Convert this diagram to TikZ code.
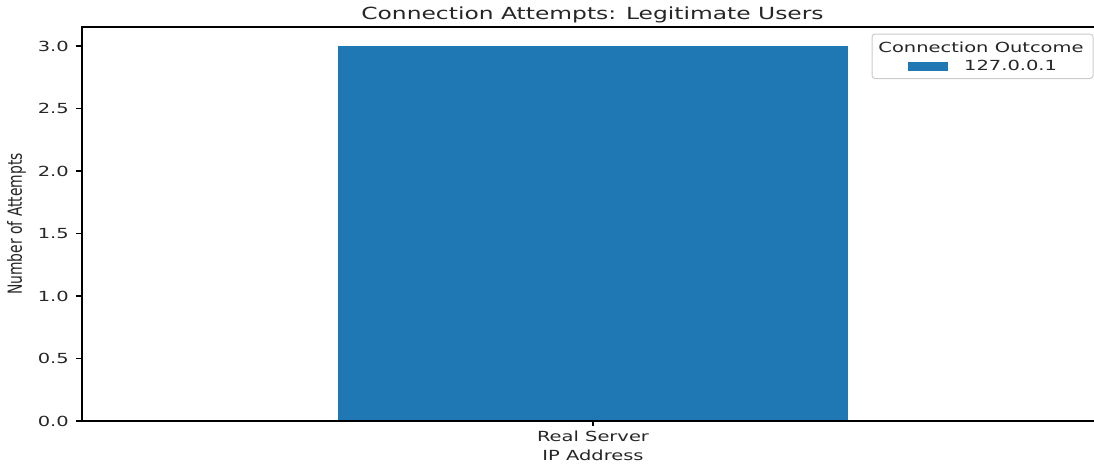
\documentclass[tikz,border=0pt]{standalone}
\usepackage{fontspec}
\usepackage{graphicx}
\setmainfont{DejaVu Sans}
\definecolor{barblue}{HTML}{1F77B4}
\definecolor{legedge}{HTML}{CCCCCC}
\newcommand{\wide}[1]{\scalebox{1.4}[1]{#1}}
\newcommand{\ticksize}{\fontsize{13.9}{16}\selectfont}
\newcommand{\titlesize}{\fontsize{16.7}{19}\selectfont}
\tikzset{
  spine/.style={line width=1.3pt, black},
  tickmark/.style={line width=1.2pt, black},
  ticklabel/.style={inner sep=0pt, font=\ticksize, text=black!85},
  barfill/.style={fill=barblue, draw=none},
  legendframe/.style={draw=legedge, line width=1pt, fill=white, rounded corners=3pt},
}
\begin{document}
\begin{tikzpicture}[x=1pt, y=-1pt]
  \useasboundingbox (0,0) rectangle (1094,466);

  % the single bar
  \fill[barfill] (338,46) rectangle (848,421);

  % axes frame (right spine lies past the right edge)
  \draw[spine] (1094,27) -- (82,27) -- (82,421) -- (1094,421);

  % y ticks and their labels
  \foreach \v/\yy in {0.0/421, 0.5/358.5, 1.0/296, 1.5/233.5, 2.0/171, 2.5/108.5, 3.0/46} {
    \draw[tickmark] (75.5,\yy) -- (82,\yy);
    \node[ticklabel, anchor=base east] (ytick\v) at (69,\yy+5.1) {\wide{\v}};
  }

  % x tick, category label and axis label
  \coordinate (xt) at (593,421);
  \draw[tickmark] (xt) -- ++(0,5);
  \node[ticklabel, anchor=base] (xcat) at (593,441.7) {\wide{Real Server}};
  \node[ticklabel, anchor=base] (xlab) at (593,460.7) {\wide{IP Address}};

  % y axis label
  \node[ticklabel] (ylab) at (16.5,224) {\scalebox{1.4}[1]{\rotatebox{90}{Number of Attempts}}};

  % title
  \node[inner sep=0pt, font=\titlesize, text=black!85, anchor=base] (title) at (592.5,19) {\wide{Connection Attempts: Legitimate Users}};

  % legend
  \draw[legendframe] (872,34) rectangle (1093,78.5);
  \node[ticklabel, anchor=base] (legtitle) at (981,52) {\wide{Connection Outcome}};
  \fill[barfill] (908,62) rectangle (948,71);
  \node[ticklabel, anchor=base west] (legentry) at (964,70.7) {\wide{127.0.0.1}};
\end{tikzpicture}
\end{document}
